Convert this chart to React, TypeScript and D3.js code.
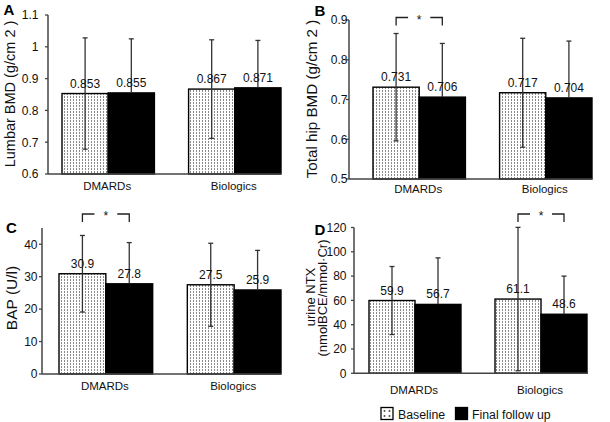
import React from "react";
import * as d3 from "d3";

// ---------- data ----------
const categories = ["DMARDs", "Biologics"];
const seriesNames = ["Baseline", "Final follow up"];

const lumbarBaseline = [0.853, 0.867];
const lumbarFinal = [0.855, 0.871];
const lumbarBaselineSD = [0.175, 0.155];
const lumbarFinalSD = [0.17, 0.149];
const lumbarTicks = [0.6, 0.7, 0.8, 0.9, 1.0, 1.1];
const lumbarTickLabels = ["0.6", "0.7", "0.8", "0.9", "1", "1.1"];

const hipBaseline = [0.731, 0.717];
const hipFinal = [0.706, 0.704];
const hipBaselineSD = [0.135, 0.137];
const hipFinalSD = [0.135, 0.143];
const hipTicks = [0.5, 0.6, 0.7, 0.8, 0.9];
const hipTickLabels = ["0.5", "0.6", "0.7", "0.8", "0.9"];

const bapBaseline = [30.9, 27.5];
const bapFinal = [27.8, 25.9];
const bapBaselineSD = [11.8, 12.8];
const bapFinalSD = [12.7, 12.2];
const bapTicks = [0, 10, 20, 30, 40];
const bapTickLabels = ["0", "10", "20", "30", "40"];

const ntxBaseline = [59.9, 61.1];
const ntxFinal = [56.7, 48.6];
const ntxBaselineSD = [28.0, 59.0];
const ntxFinalSD = [38.3, 31.4];
const ntxTicks = [0, 20, 40, 60, 80, 100, 120];
const ntxTickLabels = ["0", "20", "40", "60", "80", "100", "120"];

const FONT = "'Liberation Sans', Arial, Helvetica, sans-serif";
const AXIS = "#444";
const ERR = "#333";

type PanelCfg = {
  letter: string;
  letterX: number;
  letterY: number;
  axisX: number;
  tickTextX: number;
  xEnd: number;
  barStart: number;
  yTop: number;
  yBot: number;
  domain: [number, number];
  ticks: number[];
  tickLabels: string[];
  base: number[];
  fin: number[];
  baseSD: number[];
  finSD: number[];
  labels: string[];
  labelXs: number[];
  labelCYs: number[];
  labelSize: number;
  catY: number;
  bracket: number | null;
  bracketY: number;
};

const panels: PanelCfg[] = [
  {
    letter: "A", letterX: 3.5, letterY: 15,
    axisX: 48, tickTextX: 38.5, xEnd: 281, barStart: 62, yTop: 15, yBot: 174,
    domain: [0.6, 1.1], ticks: lumbarTicks, tickLabels: lumbarTickLabels,
    base: lumbarBaseline, fin: lumbarFinal, baseSD: lumbarBaselineSD, finSD: lumbarFinalSD,
    labels: ["Lumbar BMD (g/cm 2 )"], labelXs: [15], labelCYs: [94], labelSize: 14.5,
    catY: 189.5, bracket: null, bracketY: 0,
  },
  {
    letter: "B", letterX: 314.5, letterY: 15.5,
    axisX: 349, tickTextX: 347.5, xEnd: 592, barStart: 373, yTop: 20, yBot: 179,
    domain: [0.5, 0.9], ticks: hipTicks, tickLabels: hipTickLabels,
    base: hipBaseline, fin: hipFinal, baseSD: hipBaselineSD, finSD: hipFinalSD,
    labels: ["Total hip BMD (g/cm 2 )"], labelXs: [317], labelCYs: [99], labelSize: 15.2,
    catY: 193, bracket: 0, bracketY: 17.5,
  },
  {
    letter: "C", letterX: 6, letterY: 233,
    axisX: 42, tickTextX: 37.5, xEnd: 281, barStart: 59, yTop: 228, yBot: 374,
    domain: [0, 45], ticks: bapTicks, tickLabels: bapTickLabels,
    base: bapBaseline, fin: bapFinal, baseSD: bapBaselineSD, finSD: bapFinalSD,
    labels: ["BAP (U/l)"], labelXs: [17], labelCYs: [298], labelSize: 15.5,
    catY: 389.5, bracket: 0, bracketY: 214,
  },
  {
    letter: "D", letterX: 314.5, letterY: 235,
    axisX: 354, tickTextX: 346.5, xEnd: 587, barStart: 369, yTop: 227.5, yBot: 373.3,
    domain: [0, 120], ticks: ntxTicks, tickLabels: ntxTickLabels,
    base: ntxBaseline, fin: ntxFinal, baseSD: ntxBaselineSD, finSD: ntxFinalSD,
    labels: ["urine NTX", "(nmolBCE/mmol\u00b7Cr)"], labelXs: [315, 326.5], labelCYs: [297, 298], labelSize: 13,
    catY: 393.5, bracket: 1, bracketY: 214,
  },
];

function Panel({ p }: { p: PanelCfg }) {
  const y = d3.scaleLinear().domain(p.domain).range([p.yBot, p.yTop]);
  const outer = d3.scaleBand<string>().domain(categories).range([p.barStart, p.xEnd]).paddingInner(0.27).paddingOuter(0);
  const inner = d3.scaleBand<string>().domain(seriesNames).range([0, outer.bandwidth()]).padding(0);
  const series = [
    { name: seriesNames[0], vals: p.base, sds: p.baseSD },
    { name: seriesNames[1], vals: p.fin, sds: p.finSD },
  ];
  const fmt = (v: number) => (p.domain[1] < 2 ? d3.format(".3f")(v) : d3.format(".1f")(v));
  return (
    <g fontFamily={FONT}>
      {/* bars */}
      {categories.map((c, ci) =>
        series.map((s, si) => {
          const x = (outer(c) ?? 0) + (inner(s.name) ?? 0);
          const w = inner.bandwidth();
          const top = y(s.vals[ci]);
          return (
            <rect
              key={c + si}
              x={x}
              y={top}
              width={w}
              height={p.yBot - top}
              fill={si === 0 ? "url(#dots)" : "#000"}
              stroke="#000"
              strokeWidth={1.4}
            />
          );
        })
      )}
      {/* error bars */}
      {categories.map((c, ci) =>
        series.map((s, si) => {
          const cx = (outer(c) ?? 0) + (inner(s.name) ?? 0) + inner.bandwidth() / 2;
          const top = y(s.vals[ci]);
          const hi = y(s.vals[ci] + s.sds[ci]);
          const lo = y(Math.max(p.domain[0], s.vals[ci] - s.sds[ci]));
          const inside = si === 1 ? "#000" : ERR;
          return (
            <g key={"e" + c + si} strokeWidth={1.3}>
              <line x1={cx} x2={cx} y1={hi} y2={top} stroke={ERR} />
              <line x1={cx - 2.5} x2={cx + 2.5} y1={hi} y2={hi} stroke={ERR} />
              <line x1={cx} x2={cx} y1={top} y2={lo} stroke={inside} />
              <line x1={cx - 2.5} x2={cx + 2.5} y1={lo} y2={lo} stroke={inside} />
            </g>
          );
        })
      )}
      {/* value labels */}
      {categories.map((c, ci) =>
        series.map((s, si) => {
          const cx = (outer(c) ?? 0) + (inner(s.name) ?? 0) + inner.bandwidth() / 2;
          return (
            <text key={"v" + c + si} x={cx} y={y(s.vals[ci]) - 6} textAnchor="middle" fontSize={12} fill="#111">
              {fmt(s.vals[ci])}
            </text>
          );
        })
      )}
      {/* axes */}
      <line x1={p.axisX} x2={p.axisX} y1={p.yTop} y2={p.yBot} stroke={AXIS} strokeWidth={1.5} />
      <line x1={p.axisX} x2={p.xEnd} y1={p.yBot} y2={p.yBot} stroke={AXIS} strokeWidth={1.5} />
      {p.ticks.map((t, i) => (
        <g key={"t" + i}>
          <line x1={p.axisX - 3} x2={p.axisX} y1={y(t)} y2={y(t)} stroke={AXIS} strokeWidth={1.3} />
          <text x={p.tickTextX} y={y(t) + 4.3} textAnchor="end" fontSize={12} fill="#111">
            {p.tickLabels[i]}
          </text>
        </g>
      ))}
      {categories.map((c) => (
        <text key={"c" + c} x={(outer(c) ?? 0) + outer.bandwidth() / 2 - 1} y={p.catY} textAnchor="middle" fontSize={11.5} fill="#111">
          {c}
        </text>
      ))}
      {/* y label */}
      {p.labels.map((l, i) => (
        <text
          key={"l" + i}
          transform={`translate(${p.labelXs[i]},${p.labelCYs[i]}) rotate(-90)`}
          textAnchor="middle"
          fontSize={p.labelSize}
          fill="#111"
        >
          {l}
        </text>
      ))}
      <text x={p.letterX} y={p.letterY} fontSize={15} fontWeight="bold" fill="#000">
        {p.letter}
      </text>
      {p.bracket !== null && (() => {
        const c = categories[p.bracket];
        const x1 = (outer(c) ?? 0) + inner.bandwidth() / 2;
        const x2 = (outer(c) ?? 0) + inner.bandwidth() * 1.5;
        const mid = (x1 + x2) / 2;
        const by = p.bracketY;
        return (
          <g stroke="#222" strokeWidth={1.3} fill="none">
            <polyline points={`${x1},${by + 8} ${x1},${by} ${x1 + 12},${by}`} />
            <polyline points={`${x2 - 12},${by} ${x2},${by} ${x2},${by + 8}`} />
            <text x={mid} y={by + 6} textAnchor="middle" fontSize={12} fill="#111" stroke="none">
              *
            </text>
          </g>
        );
      })()}
    </g>
  );
}

export default function App() {
  return (
    <svg width={610} height={422} style={{ position: "absolute", left: 0, top: 0, background: "#fff" }}>
      <defs>
        <pattern id="dots" width={3} height={3} patternUnits="userSpaceOnUse">
          <rect width={3} height={3} fill="#fff" />
          <rect x={1} y={0} width={1} height={2} fill="#8a8a8a" />
        </pattern>
      </defs>
      <rect width={610} height={422} fill="#fff" />
      {panels.map((p) => (
        <Panel key={p.letter} p={p} />
      ))}
      {/* legend */}
      <g fontFamily={FONT}>
        <rect x={381} y={407.5} width={12} height={12} fill="#fff" stroke="#000" strokeWidth={1.3} />
        {[[384.5, 411], [384.5, 416], [389.5, 411], [389.5, 416]].map(([cx, cy], i) => (
          <rect key={i} x={cx - 0.8} y={cy - 0.8} width={1.6} height={1.6} fill="#333" />
        ))}
        <text x={398} y={419} fontSize={12.3} fill="#111">{seriesNames[0]}</text>
        <rect x={455.5} y={407.5} width={12} height={12} fill="#000" stroke="#000" strokeWidth={1.3} />
        <text x={472} y={419} fontSize={12.3} fill="#111">{seriesNames[1]}</text>
      </g>
    </svg>
  );
}
